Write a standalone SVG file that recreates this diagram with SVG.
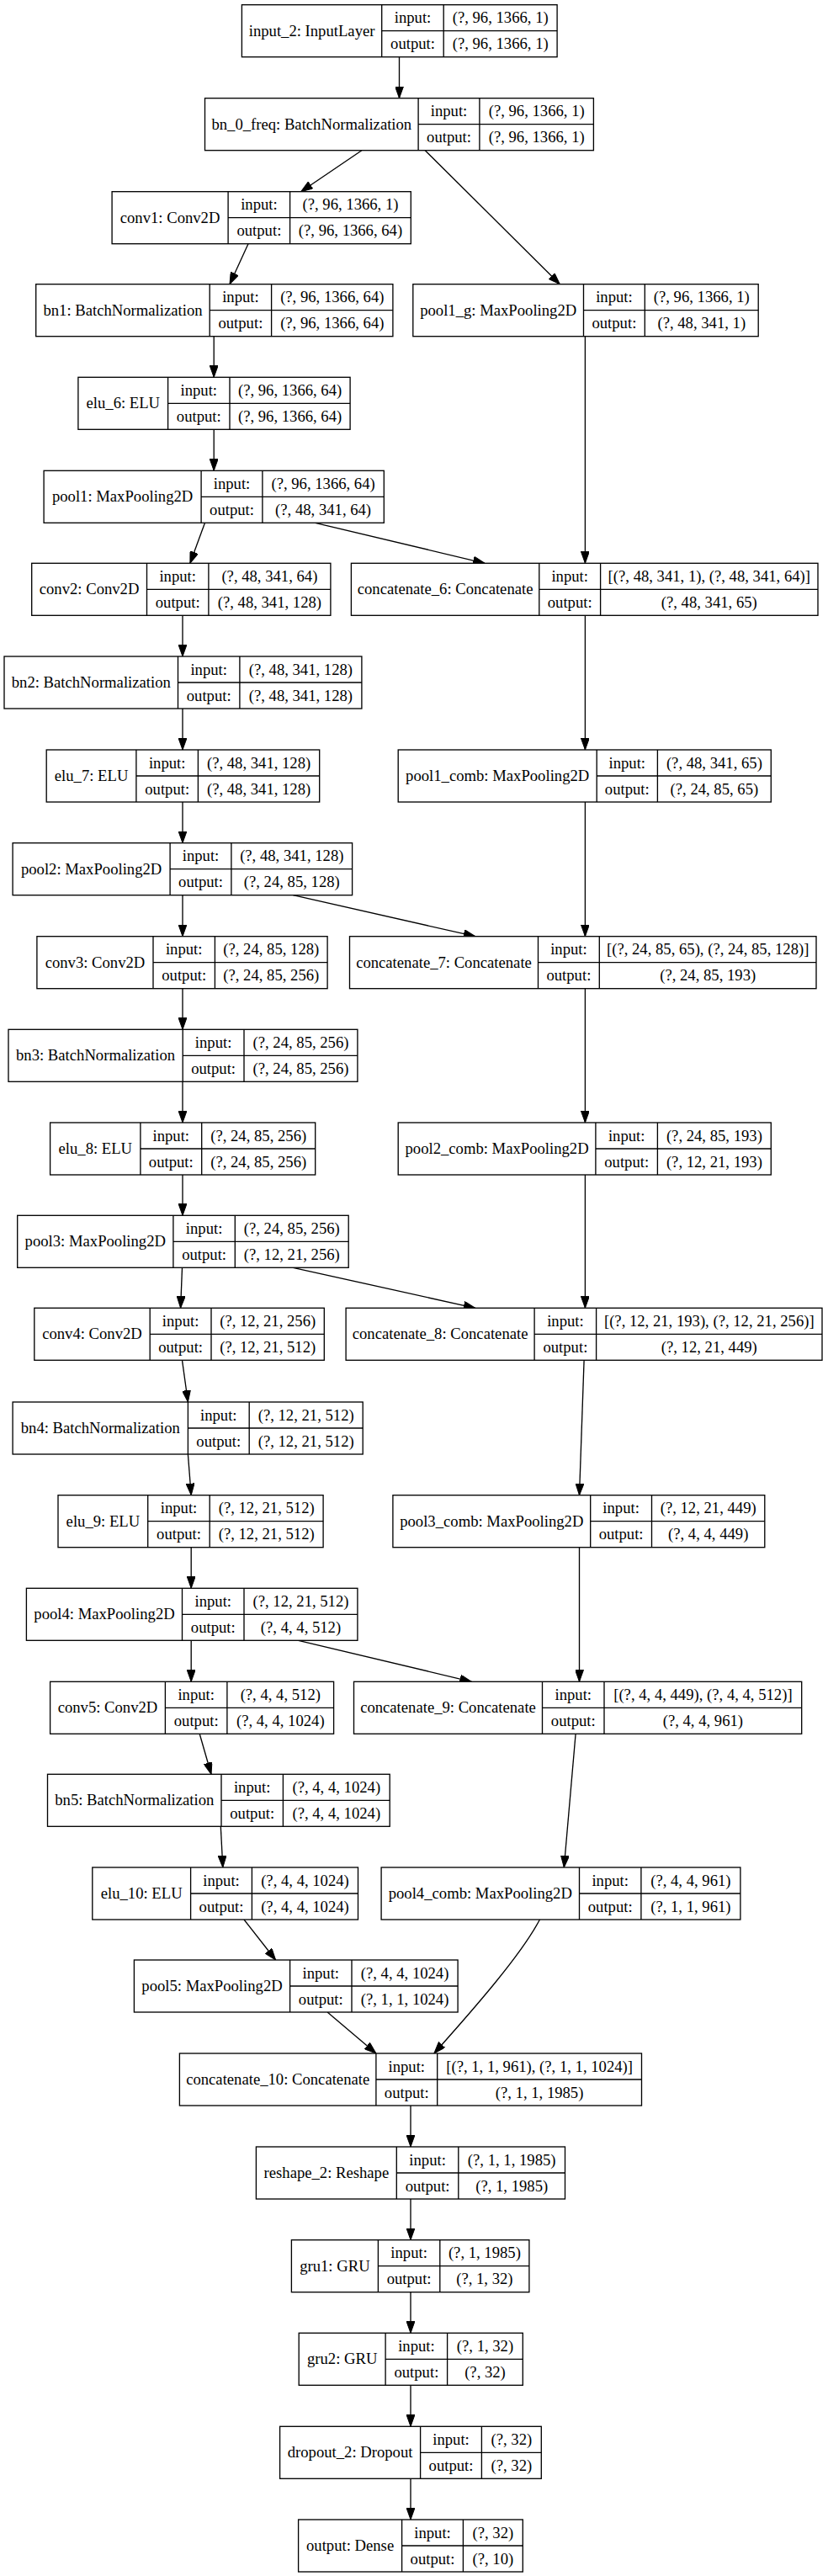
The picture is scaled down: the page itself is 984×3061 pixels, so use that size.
<svg xmlns="http://www.w3.org/2000/svg" width="984" height="3061" viewBox="0 0 984 3061">
<style>
.box{fill:#fff;stroke:#000;stroke-width:1.33}
.dv{fill:none;stroke:#000;stroke-width:1.33}
text{font-family:"Liberation Serif","Times New Roman",serif;font-size:18.67px;text-anchor:middle;fill:#000}
.e{fill:none;stroke:#000;stroke-width:1.33;marker-end:url(#arr)}
</style>
<defs>
<marker id="arr" viewBox="0 0 14 10" markerUnits="userSpaceOnUse" markerWidth="14" markerHeight="10" refX="14" refY="5" orient="auto">
<path d="M0,0 L14,5 L0,10 z" fill="#000" stroke="#000" stroke-width="1"/>
</marker>
</defs>
<rect x="0" y="0" width="984" height="3061" fill="#fff"/>
<g id="edges">
<path class="e" d="M474.5,67.7 L474.5,116.7"/>
<path class="e" d="M429.9,178.7 L357.7,227.7"/>
<path class="e" d="M505.2,178.7 L665.3,337.7"/>
<path class="e" d="M295,289.7 L273,337.7"/>
<path class="e" d="M254.2,399.7 L254.2,448.3"/>
<path class="e" d="M695.4,399.7 L695.4,669.3"/>
<path class="e" d="M254.2,510.3 L254.2,559.3"/>
<path class="e" d="M243.5,621.3 L225.9,669.3"/>
<path class="e" d="M374.7,621.3 L576.1,669.3"/>
<path class="e" d="M217,731.3 L217,780"/>
<path class="e" d="M695.4,731.3 L695.4,891"/>
<path class="e" d="M217,842 L217,891"/>
<path class="e" d="M217,953 L217,1001.7"/>
<path class="e" d="M695.4,953 L695.4,1112.7"/>
<path class="e" d="M217,1063.7 L217,1112.7"/>
<path class="e" d="M348.3,1063.7 L564.8,1112.7"/>
<path class="e" d="M217,1174.7 L217,1223.3"/>
<path class="e" d="M695.4,1174.7 L695.4,1334"/>
<path class="e" d="M217,1285.3 L217,1334"/>
<path class="e" d="M217,1396 L217,1444.3"/>
<path class="e" d="M695.4,1396 L695.4,1554.3"/>
<path class="e" d="M216.5,1506.3 L214.6,1554.3"/>
<path class="e" d="M348.3,1506.3 L564.8,1554.3"/>
<path class="e" d="M216.5,1616.3 L223.4,1666"/>
<path class="e" d="M694.1,1616.3 L688.5,1776.7"/>
<path class="e" d="M223.4,1728 L227.2,1776.7"/>
<path class="e" d="M227.2,1838.7 L227.2,1887.3"/>
<path class="e" d="M688.5,1838.7 L688.5,1998.3"/>
<path class="e" d="M227.2,1949.3 L227.2,1998.3"/>
<path class="e" d="M354.6,1949.3 L560.4,1998.3"/>
<path class="e" d="M237.2,2060.3 L251,2108.3"/>
<path class="e" d="M684.1,2060.3 L670.3,2219"/>
<path class="e" d="M262.3,2170.3 L264.8,2219"/>
<path class="e" d="M290,2281 L327.6,2329"/>
<path class="e" d="M641.4,2281 C620,2322 565,2385 515.9,2440"/>
<path class="e" d="M389.1,2391 L446.9,2440"/>
<path class="e" d="M488,2502 L488,2551"/>
<path class="e" d="M488,2613 L488,2661.7"/>
<path class="e" d="M488,2723.7 L488,2772.3"/>
<path class="e" d="M488,2834.3 L488,2883.3"/>
<path class="e" d="M488,2945.3 L488,2994"/>
</g>
<g id="input_2"><rect class="box" x="287.4" y="5.7" width="374.7" height="62"/><path class="dv" d="M453.7,5.7V67.7M527.2,5.7V67.7M453.7,36.7H662.1"/>
<text x="370.6" y="42.7">input_2: InputLayer</text><text x="490.5" y="27.2">input:</text><text x="594.7" y="27.2">(?, 96, 1366, 1)</text><text x="490.5" y="58.2">output:</text><text x="594.7" y="58.2">(?, 96, 1366, 1)</text></g>
<g id="bn_0_freq"><rect class="box" x="243.5" y="116.7" width="461.9" height="62"/><path class="dv" d="M497.1,116.7V178.7M569.9,116.7V178.7M497.1,147.7H705.4"/>
<text x="370.3" y="153.7">bn_0_freq: BatchNormalization</text><text x="533.5" y="138.2">input:</text><text x="637.7" y="138.2">(?, 96, 1366, 1)</text><text x="533.5" y="169.2">output:</text><text x="637.7" y="169.2">(?, 96, 1366, 1)</text></g>
<g id="conv1"><rect class="box" x="133.1" y="227.7" width="355.2" height="62"/><path class="dv" d="M271.1,227.7V289.7M344.6,227.7V289.7M271.1,258.7H488.3"/>
<text x="202.1" y="264.7">conv1: Conv2D</text><text x="307.9" y="249.2">input:</text><text x="416.5" y="249.2">(?, 96, 1366, 1)</text><text x="307.9" y="280.2">output:</text><text x="416.5" y="280.2">(?, 96, 1366, 64)</text></g>
<g id="bn1"><rect class="box" x="42.7" y="337.7" width="424.2" height="62"/><path class="dv" d="M249.2,337.7V399.7M322.6,337.7V399.7M249.2,368.7H466.9"/>
<text x="146" y="374.7">bn1: BatchNormalization</text><text x="285.9" y="359.2">input:</text><text x="394.8" y="359.2">(?, 96, 1366, 64)</text><text x="285.9" y="390.2">output:</text><text x="394.8" y="390.2">(?, 96, 1366, 64)</text></g>
<g id="pool1_g"><rect class="box" x="490.8" y="337.7" width="410.4" height="62"/><path class="dv" d="M693.5,337.7V399.7M766.3,337.7V399.7M693.5,368.7H901.2"/>
<text x="592.2" y="374.7">pool1_g: MaxPooling2D</text><text x="729.9" y="359.2">input:</text><text x="833.8" y="359.2">(?, 96, 1366, 1)</text><text x="729.9" y="390.2">output:</text><text x="833.8" y="390.2">(?, 48, 341, 1)</text></g>
<g id="elu_6"><rect class="box" x="92.9" y="448.3" width="323.2" height="62"/><path class="dv" d="M199.6,448.3V510.3M273,448.3V510.3M199.6,479.3H416.1"/>
<text x="146.3" y="485.3">elu_6: ELU</text><text x="236.3" y="469.8">input:</text><text x="344.6" y="469.8">(?, 96, 1366, 64)</text><text x="236.3" y="500.8">output:</text><text x="344.6" y="500.8">(?, 96, 1366, 64)</text></g>
<g id="pool1"><rect class="box" x="52.1" y="559.3" width="404.2" height="62"/><path class="dv" d="M239.1,559.3V621.3M311.9,559.3V621.3M239.1,590.3H456.3"/>
<text x="145.6" y="596.3">pool1: MaxPooling2D</text><text x="275.5" y="580.8">input:</text><text x="384.1" y="580.8">(?, 96, 1366, 64)</text><text x="275.5" y="611.8">output:</text><text x="384.1" y="611.8">(?, 48, 341, 64)</text></g>
<g id="conv2"><rect class="box" x="37.7" y="669.3" width="355.2" height="62"/><path class="dv" d="M174.5,669.3V731.3M247.9,669.3V731.3M174.5,700.3H392.9"/>
<text x="106.1" y="706.3">conv2: Conv2D</text><text x="211.2" y="690.8">input:</text><text x="320.4" y="690.8">(?, 48, 341, 64)</text><text x="211.2" y="721.8">output:</text><text x="320.4" y="721.8">(?, 48, 341, 128)</text></g>
<g id="concatenate_6"><rect class="box" x="417.4" y="669.3" width="554.6" height="62"/><path class="dv" d="M640.8,669.3V731.3M713.6,669.3V731.3M640.8,700.3H972"/>
<text x="529.1" y="706.3">concatenate_6: Concatenate</text><text x="677.2" y="690.8">input:</text><text x="842.8" y="690.8">[(?, 48, 341, 1), (?, 48, 341, 64)]</text><text x="677.2" y="721.8">output:</text><text x="842.8" y="721.8">(?, 48, 341, 65)</text></g>
<g id="bn2"><rect class="box" x="5" y="780" width="424.9" height="62"/><path class="dv" d="M211.5,780V842M284.9,780V842M211.5,811H429.9"/>
<text x="108.3" y="817">bn2: BatchNormalization</text><text x="248.2" y="801.5">input:</text><text x="357.4" y="801.5">(?, 48, 341, 128)</text><text x="248.2" y="832.5">output:</text><text x="357.4" y="832.5">(?, 48, 341, 128)</text></g>
<g id="elu_7"><rect class="box" x="55.2" y="891" width="324.5" height="62"/><path class="dv" d="M161.9,891V953M235.4,891V953M161.9,922H379.7"/>
<text x="108.6" y="928">elu_7: ELU</text><text x="198.7" y="912.5">input:</text><text x="307.6" y="912.5">(?, 48, 341, 128)</text><text x="198.7" y="943.5">output:</text><text x="307.6" y="943.5">(?, 48, 341, 128)</text></g>
<g id="pool1_comb"><rect class="box" x="473.2" y="891" width="443.1" height="62"/><path class="dv" d="M709.2,891V953M781.4,891V953M709.2,922H916.3"/>
<text x="591.2" y="928">pool1_comb: MaxPooling2D</text><text x="745.3" y="912.5">input:</text><text x="848.9" y="912.5">(?, 48, 341, 65)</text><text x="745.3" y="943.5">output:</text><text x="848.9" y="943.5">(?, 24, 85, 65)</text></g>
<g id="pool2"><rect class="box" x="15.1" y="1001.7" width="403.5" height="62"/><path class="dv" d="M202.1,1001.7V1063.7M274.9,1001.7V1063.7M202.1,1032.7H418.6"/>
<text x="108.6" y="1038.7">pool2: MaxPooling2D</text><text x="238.5" y="1023.2">input:</text><text x="346.8" y="1023.2">(?, 48, 341, 128)</text><text x="238.5" y="1054.2">output:</text><text x="346.8" y="1054.2">(?, 24, 85, 128)</text></g>
<g id="conv3"><rect class="box" x="43.9" y="1112.7" width="345.2" height="62"/><path class="dv" d="M182,1112.7V1174.7M255.4,1112.7V1174.7M182,1143.7H389.1"/>
<text x="113" y="1149.7">conv3: Conv2D</text><text x="218.7" y="1134.2">input:</text><text x="322.3" y="1134.2">(?, 24, 85, 128)</text><text x="218.7" y="1165.2">output:</text><text x="322.3" y="1165.2">(?, 24, 85, 256)</text></g>
<g id="concatenate_7"><rect class="box" x="415.5" y="1112.7" width="554.5" height="62"/><path class="dv" d="M639.5,1112.7V1174.7M712.3,1112.7V1174.7M639.5,1143.7H970"/>
<text x="527.5" y="1149.7">concatenate_7: Concatenate</text><text x="675.9" y="1134.2">input:</text><text x="841.2" y="1134.2">[(?, 24, 85, 65), (?, 24, 85, 128)]</text><text x="675.9" y="1165.2">output:</text><text x="841.2" y="1165.2">(?, 24, 85, 193)</text></g>
<g id="bn3"><rect class="box" x="10" y="1223.3" width="414.9" height="62"/><path class="dv" d="M217.2,1223.3V1285.3M290,1223.3V1285.3M217.2,1254.3H424.9"/>
<text x="113.6" y="1260.3">bn3: BatchNormalization</text><text x="253.6" y="1244.8">input:</text><text x="357.5" y="1244.8">(?, 24, 85, 256)</text><text x="253.6" y="1275.8">output:</text><text x="357.5" y="1275.8">(?, 24, 85, 256)</text></g>
<g id="elu_8"><rect class="box" x="59.6" y="1334" width="315.1" height="62"/><path class="dv" d="M166.9,1334V1396M239.7,1334V1396M166.9,1365H374.7"/>
<text x="113.3" y="1371">elu_8: ELU</text><text x="203.3" y="1355.5">input:</text><text x="307.2" y="1355.5">(?, 24, 85, 256)</text><text x="203.3" y="1386.5">output:</text><text x="307.2" y="1386.5">(?, 24, 85, 256)</text></g>
<g id="pool2_comb"><rect class="box" x="473.2" y="1334" width="443.1" height="62"/><path class="dv" d="M707.9,1334V1396M781.4,1334V1396M707.9,1365H916.3"/>
<text x="590.6" y="1371">pool2_comb: MaxPooling2D</text><text x="744.7" y="1355.5">input:</text><text x="848.9" y="1355.5">(?, 24, 85, 193)</text><text x="744.7" y="1386.5">output:</text><text x="848.9" y="1386.5">(?, 12, 21, 193)</text></g>
<g id="pool3"><rect class="box" x="20.7" y="1444.3" width="393.5" height="62"/><path class="dv" d="M205.9,1444.3V1506.3M279.3,1444.3V1506.3M205.9,1475.3H414.2"/>
<text x="113.3" y="1481.3">pool3: MaxPooling2D</text><text x="242.6" y="1465.8">input:</text><text x="346.8" y="1465.8">(?, 24, 85, 256)</text><text x="242.6" y="1496.8">output:</text><text x="346.8" y="1496.8">(?, 12, 21, 256)</text></g>
<g id="conv4"><rect class="box" x="40.8" y="1554.3" width="344.5" height="62"/><path class="dv" d="M178.2,1554.3V1616.3M251,1554.3V1616.3M178.2,1585.3H385.3"/>
<text x="109.5" y="1591.3">conv4: Conv2D</text><text x="214.6" y="1575.8">input:</text><text x="318.2" y="1575.8">(?, 12, 21, 256)</text><text x="214.6" y="1606.8">output:</text><text x="318.2" y="1606.8">(?, 12, 21, 512)</text></g>
<g id="concatenate_8"><rect class="box" x="411.1" y="1554.3" width="565.9" height="62"/><path class="dv" d="M635.1,1554.3V1616.3M708.6,1554.3V1616.3M635.1,1585.3H977"/>
<text x="523.1" y="1591.3">concatenate_8: Concatenate</text><text x="671.9" y="1575.8">input:</text><text x="842.8" y="1575.8">[(?, 12, 21, 193), (?, 12, 21, 256)]</text><text x="671.9" y="1606.8">output:</text><text x="842.8" y="1606.8">(?, 12, 21, 449)</text></g>
<g id="bn4"><rect class="box" x="15.1" y="1666" width="416.1" height="62"/><path class="dv" d="M223.4,1666V1728M296.2,1666V1728M223.4,1697H431.2"/>
<text x="119.3" y="1703">bn4: BatchNormalization</text><text x="259.8" y="1687.5">input:</text><text x="363.7" y="1687.5">(?, 12, 21, 512)</text><text x="259.8" y="1718.5">output:</text><text x="363.7" y="1718.5">(?, 12, 21, 512)</text></g>
<g id="elu_9"><rect class="box" x="69" y="1776.7" width="315.1" height="62"/><path class="dv" d="M175.7,1776.7V1838.7M249.2,1776.7V1838.7M175.7,1807.7H384.1"/>
<text x="122.4" y="1813.7">elu_9: ELU</text><text x="212.5" y="1798.2">input:</text><text x="316.7" y="1798.2">(?, 12, 21, 512)</text><text x="212.5" y="1829.2">output:</text><text x="316.7" y="1829.2">(?, 12, 21, 512)</text></g>
<g id="pool3_comb"><rect class="box" x="466.9" y="1776.7" width="441.9" height="62"/><path class="dv" d="M701.7,1776.7V1838.7M774.5,1776.7V1838.7M701.7,1807.7H908.8"/>
<text x="584.3" y="1813.7">pool3_comb: MaxPooling2D</text><text x="738.1" y="1798.2">input:</text><text x="841.7" y="1798.2">(?, 12, 21, 449)</text><text x="738.1" y="1829.2">output:</text><text x="841.7" y="1829.2">(?, 4, 4, 449)</text></g>
<g id="pool4"><rect class="box" x="31.4" y="1887.3" width="393.5" height="62"/><path class="dv" d="M216.5,1887.3V1949.3M290,1887.3V1949.3M216.5,1918.3H424.9"/>
<text x="124" y="1924.3">pool4: MaxPooling2D</text><text x="253.3" y="1908.8">input:</text><text x="357.5" y="1908.8">(?, 12, 21, 512)</text><text x="253.3" y="1939.8">output:</text><text x="357.5" y="1939.8">(?, 4, 4, 512)</text></g>
<g id="conv5"><rect class="box" x="59.6" y="1998.3" width="337" height="62"/><path class="dv" d="M196.4,1998.3V2060.3M269.9,1998.3V2060.3M196.4,2029.3H396.6"/>
<text x="128" y="2035.3">conv5: Conv2D</text><text x="233.2" y="2019.8">input:</text><text x="333.3" y="2019.8">(?, 4, 4, 512)</text><text x="233.2" y="2050.8">output:</text><text x="333.3" y="2050.8">(?, 4, 4, 1024)</text></g>
<g id="concatenate_9"><rect class="box" x="420.5" y="1998.3" width="532.2" height="62"/><path class="dv" d="M644.5,1998.3V2060.3M718,1998.3V2060.3M644.5,2029.3H952.7"/>
<text x="532.5" y="2035.3">concatenate_9: Concatenate</text><text x="681.3" y="2019.8">input:</text><text x="835.4" y="2019.8">[(?, 4, 4, 449), (?, 4, 4, 512)]</text><text x="681.3" y="2050.8">output:</text><text x="835.4" y="2050.8">(?, 4, 4, 961)</text></g>
<g id="bn5"><rect class="box" x="56.5" y="2108.3" width="406.7" height="62"/><path class="dv" d="M263,2108.3V2170.3M336.4,2108.3V2170.3M263,2139.3H463.2"/>
<text x="159.8" y="2145.3">bn5: BatchNormalization</text><text x="299.7" y="2129.8">input:</text><text x="399.8" y="2129.8">(?, 4, 4, 1024)</text><text x="299.7" y="2160.8">output:</text><text x="399.8" y="2160.8">(?, 4, 4, 1024)</text></g>
<g id="elu_10"><rect class="box" x="109.8" y="2219" width="315.7" height="62"/><path class="dv" d="M226.6,2219V2281M299.4,2219V2281M226.6,2250H425.5"/>
<text x="168.2" y="2256">elu_10: ELU</text><text x="263" y="2240.5">input:</text><text x="362.5" y="2240.5">(?, 4, 4, 1024)</text><text x="263" y="2271.5">output:</text><text x="362.5" y="2271.5">(?, 4, 4, 1024)</text></g>
<g id="pool4_comb"><rect class="box" x="453.1" y="2219" width="426.8" height="62"/><path class="dv" d="M688.5,2219V2281M761.9,2219V2281M688.5,2250H879.9"/>
<text x="570.8" y="2256">pool4_comb: MaxPooling2D</text><text x="725.2" y="2240.5">input:</text><text x="820.9" y="2240.5">(?, 4, 4, 961)</text><text x="725.2" y="2271.5">output:</text><text x="820.9" y="2271.5">(?, 1, 1, 961)</text></g>
<g id="pool5"><rect class="box" x="159.4" y="2329" width="384.7" height="62"/><path class="dv" d="M344.6,2329V2391M418,2329V2391M344.6,2360H544.1"/>
<text x="252" y="2366">pool5: MaxPooling2D</text><text x="381.3" y="2350.5">input:</text><text x="481.1" y="2350.5">(?, 4, 4, 1024)</text><text x="381.3" y="2381.5">output:</text><text x="481.1" y="2381.5">(?, 1, 1, 1024)</text></g>
<g id="concatenate_10"><rect class="box" x="213.4" y="2440" width="549.1" height="62"/><path class="dv" d="M446.9,2440V2502M519.7,2440V2502M446.9,2471H762.5"/>
<text x="330.2" y="2477">concatenate_10: Concatenate</text><text x="483.3" y="2461.5">input:</text><text x="641.1" y="2461.5">[(?, 1, 1, 961), (?, 1, 1, 1024)]</text><text x="483.3" y="2492.5">output:</text><text x="641.1" y="2492.5">(?, 1, 1, 1985)</text></g>
<g id="reshape_2"><rect class="box" x="304.4" y="2551" width="367.1" height="62"/><path class="dv" d="M471.3,2551V2613M544.8,2551V2613M471.3,2582H671.5"/>
<text x="387.9" y="2588">reshape_2: Reshape</text><text x="508.1" y="2572.5">input:</text><text x="608.2" y="2572.5">(?, 1, 1, 1985)</text><text x="508.1" y="2603.5">output:</text><text x="608.2" y="2603.5">(?, 1, 1985)</text></g>
<g id="gru1"><rect class="box" x="346.4" y="2661.7" width="282.5" height="62"/><path class="dv" d="M449.4,2661.7V2723.7M522.8,2661.7V2723.7M449.4,2692.7H628.9"/>
<text x="397.9" y="2698.7">gru1: GRU</text><text x="486.1" y="2683.2">input:</text><text x="575.9" y="2683.2">(?, 1, 1985)</text><text x="486.1" y="2714.2">output:</text><text x="575.9" y="2714.2">(?, 1, 32)</text></g>
<g id="gru2"><rect class="box" x="355.2" y="2772.3" width="266.1" height="62"/><path class="dv" d="M458.1,2772.3V2834.3M531.6,2772.3V2834.3M458.1,2803.3H621.3"/>
<text x="406.7" y="2809.3">gru2: GRU</text><text x="494.9" y="2793.8">input:</text><text x="576.5" y="2793.8">(?, 1, 32)</text><text x="494.9" y="2824.8">output:</text><text x="576.5" y="2824.8">(?, 32)</text></g>
<g id="dropout_2"><rect class="box" x="332.6" y="2883.3" width="310.7" height="62"/><path class="dv" d="M499.6,2883.3V2945.3M572.4,2883.3V2945.3M499.6,2914.3H643.3"/>
<text x="416.1" y="2920.3">dropout_2: Dropout</text><text x="536" y="2904.8">input:</text><text x="607.9" y="2904.8">(?, 32)</text><text x="536" y="2935.8">output:</text><text x="607.9" y="2935.8">(?, 32)</text></g>
<g id="output"><rect class="box" x="354.6" y="2994" width="266.7" height="62"/><path class="dv" d="M477.6,2994V3056M550.4,2994V3056M477.6,3025H621.3"/>
<text x="416.1" y="3031">output: Dense</text><text x="514" y="3015.5">input:</text><text x="585.9" y="3015.5">(?, 32)</text><text x="514" y="3046.5">output:</text><text x="585.9" y="3046.5">(?, 10)</text></g>
</svg>
